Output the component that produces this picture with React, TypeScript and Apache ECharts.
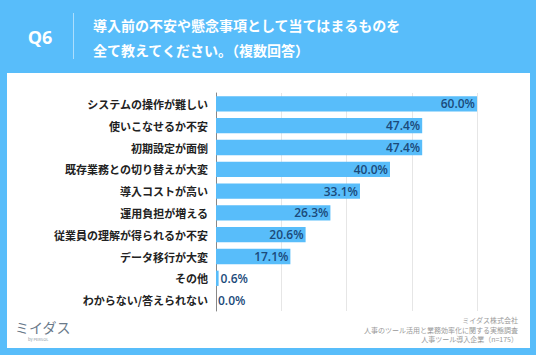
import React, { useEffect, useRef } from "react";
import * as echarts from "echarts";

const categories = [
  "システムの操作が難しい",
  "使いこなせるか不安",
  "初期設定が面倒",
  "既存業務との切り替えが大変",
  "導入コストが高い",
  "運用負担が増える",
  "従業員の理解が得られるか不安",
  "データ移行が大変",
  "その他",
  "わからない/答えられない",
];
const values = [60.0, 47.4, 47.4, 40.0, 33.1, 26.3, 20.6, 17.1, 0.6, 0.0];
const titleLines = ["導入前の不安や懸念事項として当てはまるものを", "全て教えてください。（複数回答）"];
const sourceLines = ["ミイダス株式会社", "人事のツール活用と業務効率化に関する実態調査", "人事ツール導入企業（n=175）"];

const BLUE = "#58bdfa";
const FONT = "'Noto Sans CJK JP', 'Noto Sans', sans-serif";

export default function App() {
  const ref = useRef<HTMLDivElement>(null);
  useEffect(() => {
    if (!ref.current) return;
    const chart = echarts.init(ref.current, null, { renderer: "svg" });
    chart.setOption({
      animation: false,
      backgroundColor: BLUE,
      textStyle: { fontFamily: FONT },
      grid: { left: 216, right: 59, top: 93, bottom: 44 },
      xAxis: {
        type: "value",
        min: 0,
        max: 60,
        interval: 15,
        axisLabel: { show: false },
        axisLine: { show: false },
        axisTick: { show: false },
        splitLine: { show: true, lineStyle: { color: "#e6e6e6", width: 1 } },
      },
      yAxis: {
        type: "category",
        data: categories,
        inverse: true,
        axisTick: { show: false },
        axisLine: { show: true, lineStyle: { color: "#888", width: 1 } },
        axisLabel: {
          color: "#222",
          fontSize: 11,
          fontWeight: "bold",
          margin: 8,
          fontFamily: FONT,
        },
      },
      series: [
        {
          type: "bar",
          barCategoryGap: "30%",
          data: values.map((v) => ({
            value: v,
            label: {
              show: true,
              position: v < 5 ? "right" : "insideRight",
              distance: 2,
              formatter: (p: any) => p.value.toFixed(1) + "%",
              color: "#1b4a7a",
              fontSize: 12,
              fontWeight: 600,
              fontFamily: "'Open Sans', 'Noto Sans', sans-serif",
            },
          })),
          itemStyle: { color: BLUE },
        },
      ],
      graphic: [
        {
          type: "rect",
          z: -10,
          shape: { x: 7, y: 73, width: 523, height: 275 },
          style: { fill: "#ffffff" },
        },
        {
          type: "text",
          x: 40,
          y: 37,
          style: {
            text: "Q6",
            fill: "#fff",
            font: "bold 18px 'Open Sans', 'Noto Sans', sans-serif",
            textAlign: "center",
            textVerticalAlign: "middle",
          },
        },
        {
          type: "line",
          shape: { x1: 73.5, y1: 13, x2: 73.5, y2: 59 },
          style: { stroke: "rgba(255,255,255,0.5)", lineWidth: 1 },
        },
        {
          type: "text",
          x: 93,
          y: 25,
          style: {
            text: titleLines[0],
            fill: "#fff",
            font: "bold 14px " + FONT,
            textVerticalAlign: "middle",
          },
        },
        {
          type: "text",
          x: 93,
          y: 50,
          style: {
            text: titleLines[1],
            fill: "#fff",
            font: "bold 14px " + FONT,
            textVerticalAlign: "middle",
          },
        },
        ...sourceLines.map((t, i) => ({
          type: "text",
          x: 518,
          y: 320 + i * 9.5,
          style: {
            text: t,
            fill: "#999",
            font: "7px " + FONT,
            textAlign: "right",
            textVerticalAlign: "middle",
          },
        })),
        {
          type: "text",
          x: 15,
          y: 327,
          style: {
            text: "ミイダス",
            fill: "#6a7a8a",
            font: "14px " + FONT,
            textVerticalAlign: "middle",
          },
        },
        {
          type: "text",
          x: 28,
          y: 339,
          style: {
            text: "by PERSOL",
            fill: "#8a96a2",
            font: "4px " + FONT,
            textVerticalAlign: "middle",
          },
        },
      ],
    });
    return () => chart.dispose();
  }, []);
  return <div ref={ref} style={{ width: 536, height: 355, position: "absolute", left: 0, top: 0 }} />;
}
